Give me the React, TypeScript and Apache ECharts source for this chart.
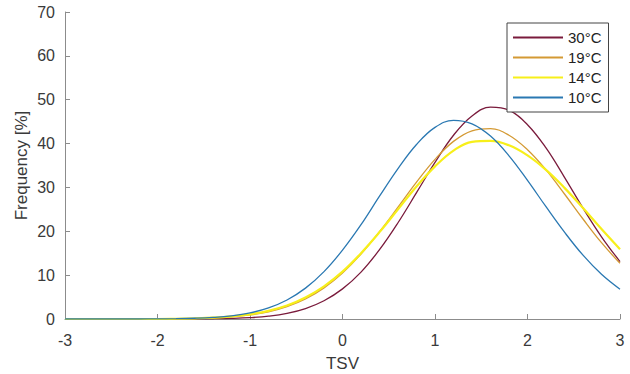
import React, { useEffect, useRef } from "react";
import * as echarts from "echarts";

const xs = [-3, -2.8, -2.6, -2.4, -2.2, -2, -1.8, -1.6, -1.4, -1.2, -1, -0.8, -0.6, -0.4, -0.2, 0, 0.2, 0.4, 0.6, 0.8, 1, 1.2, 1.4, 1.6, 1.8, 2, 2.2, 2.4, 2.6, 2.8, 3];

const t30 = [0, 0, 0, 0, 0, 0, 0.01, 0.03, 0.06, 0.14, 0.31, 0.65, 1.28, 2.38, 4.16, 6.87, 10.7, 15.8, 21.95, 28.8, 35.7, 41.9, 46.3, 48.3, 47.6, 44.3, 39.0, 32.3, 25.3, 18.75, 13.1];
const t19 = [0, 0, 0, 0, 0, 0, 0.05, 0.12, 0.25, 0.49, 0.93, 1.65, 2.82, 4.58, 7.1, 10.5, 14.8, 19.9, 25.5, 31.2, 36.4, 40.5, 42.9, 43.4, 41.9, 38.6, 34.0, 28.5, 22.8, 17.4, 12.7];
const t14 = [0, 0, 0, 0, 0, 0, 0.06, 0.15, 0.3, 0.58, 1.06, 1.85, 3.08, 4.9, 7.44, 10.8, 15.0, 19.8, 25.0, 30.2, 34.8, 38.4, 40.4, 40.6, 39.6, 37.3, 34.0, 29.9, 25.3, 20.5, 15.9];
const t10 = [0, 0, 0, 0, 0, 0.03, 0.07, 0.17, 0.36, 0.72, 1.39, 2.53, 4.34, 7.04, 10.8, 15.7, 21.5, 28.0, 34.3, 39.8, 43.7, 45.3, 44.5, 41.7, 37.2, 31.6, 25.6, 19.8, 14.55, 10.2, 6.8];

const names = ["30°C", "19°C", "14°C", "10°C"];
const values = [t30, t19, t14, t10];
const colors = ["#7A1B3C", "#D49A34", "#F7EF1A", "#2A78B2"];
const widths = [1.3, 1.3, 2.2, 1.3];

const FONT = "Liberation Sans, Arial, sans-serif";

export default function App() {
  const ref = useRef<HTMLDivElement>(null);
  useEffect(() => {
    if (!ref.current) return;
    const chart = echarts.init(ref.current, undefined, { renderer: "svg" });
    const axisColor = "#8c8c8c";
    const labelColor = "#3a3a3a";
    chart.setOption({
      animation: false,
      backgroundColor: "#ffffff",
      textStyle: { fontFamily: FONT },
      grid: { left: 65, right: 10, top: 12, bottom: 55, containLabel: false, outerBoundsMode: "none" },
      legend: {
        orient: "vertical",
        left: 507,
        top: 23,
        itemWidth: 50,
        itemHeight: 14,
        itemGap: 5,
        padding: [7, 7, 7, 5],
        borderColor: "#444",
        borderWidth: 1,
        backgroundColor: "#fff",
        itemStyle: { opacity: 0 },
        textStyle: { fontFamily: FONT, fontSize: 15, color: "#222" },
        data: names,
      },
      xAxis: {
        type: "value",
        min: -3,
        max: 3,
        interval: 1,
        name: "TSV",
        nameLocation: "middle",
        nameGap: 36,
        nameMoveOverlap: false,
        nameTextStyle: { fontFamily: FONT, fontSize: 17, color: labelColor },
        axisLine: { show: true, onZero: false, lineStyle: { color: axisColor, width: 1 } },
        axisTick: { show: true, inside: true, length: 5, lineStyle: { color: axisColor } },
        axisLabel: { fontFamily: FONT, fontSize: 16, color: labelColor, margin: 13 },
        splitLine: { show: false },
      },
      yAxis: {
        type: "value",
        min: 0,
        max: 70,
        interval: 10,
        name: "Frequency [%]",
        nameLocation: "middle",
        nameGap: 35,
        nameMoveOverlap: false,
        nameRotate: 90,
        nameTextStyle: { fontFamily: FONT, fontSize: 17, color: labelColor },
        axisLine: { show: true, onZero: false, lineStyle: { color: axisColor, width: 1 } },
        axisTick: { show: true, inside: true, length: 5, lineStyle: { color: axisColor } },
        axisLabel: { fontFamily: FONT, fontSize: 16, color: labelColor, margin: 10 },
        splitLine: { show: false },
      },
      series: names.map((n, i) => ({
        name: n,
        type: "line",
        smooth: 0.4,
        symbol: "none",
        data: xs.map((x, j) => [x, values[i][j]]),
        lineStyle: { color: colors[i], width: widths[i] },
        itemStyle: { color: colors[i] },
      })),
    });
    return () => chart.dispose();
  }, []);
  return <div ref={ref} style={{ width: 630, height: 374, position: "absolute", left: 0, top: 0 }} />;
}
